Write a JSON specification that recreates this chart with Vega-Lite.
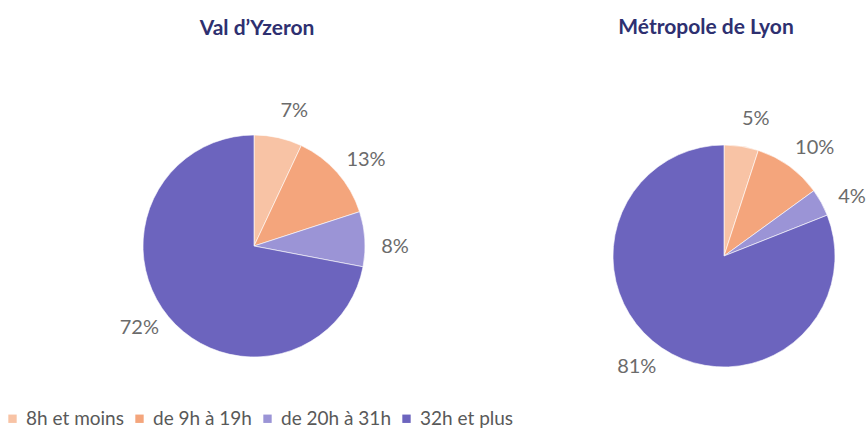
{
  "$schema": "https://vega.github.io/schema/vega-lite/v6.json",
  "background": "white",
  "padding": {"left": 3, "top": 16, "right": 0, "bottom": 0},
  "datasets": {
    "temps": [
      {"territoire": "Val d’Yzeron", "classe": "8h et moins", "part": 0.07, "n": 1},
      {"territoire": "Val d’Yzeron", "classe": "de 9h à 19h", "part": 0.13, "n": 2},
      {"territoire": "Val d’Yzeron", "classe": "de 20h à 31h", "part": 0.08, "n": 3},
      {"territoire": "Val d’Yzeron", "classe": "32h et plus", "part": 0.72, "n": 4},
      {"territoire": "Métropole de Lyon", "classe": "8h et moins", "part": 0.05, "n": 1},
      {"territoire": "Métropole de Lyon", "classe": "de 9h à 19h", "part": 0.10, "n": 2},
      {"territoire": "Métropole de Lyon", "classe": "de 20h à 31h", "part": 0.04, "n": 3},
      {"territoire": "Métropole de Lyon", "classe": "32h et plus", "part": 0.81, "n": 4}
    ]
  },
  "data": {"name": "temps"},
  "spacing": 89,
  "config": {
    "view": {"stroke": null},
    "font": "Lato",
    "title": {"font": "Lato", "fontSize": 21, "fontWeight": "bold", "color": "#2E3070", "anchor": "middle", "frame": "group"},
    "legend": {
      "orient": "bottom",
      "direction": "horizontal",
      "title": null,
      "padding": 0,
      "symbolType": "square",
      "symbolSize": 70,
      "symbolStrokeWidth": 0,
      "labelFont": "Lato",
      "labelFontSize": 19,
      "labelColor": "#595959",
      "labelOffset": 4,
      "columnPadding": 6,
      "offset": 32
    }
  },
  "hconcat": [
    {
      "title": {"text": "Val d’Yzeron", "dx": 3, "offset": 62},
      "width": 502,
      "height": 222,
      "transform": [{"filter": "datum.territoire === 'Val d’Yzeron'"}],
      "encoding": {
        "theta": {"field": "part", "type": "quantitative", "stack": true},
        "order": {"field": "n", "type": "ordinal"}
      },
      "layer": [
        {
          "mark": {"type": "arc", "outerRadius": 111, "stroke": "#ffffff", "strokeWidth": 0.6},
          "encoding": {
            "color": {
              "field": "classe",
              "type": "nominal",
              "scale": {
                "domain": ["8h et moins", "de 9h à 19h", "de 20h à 31h", "32h et plus"],
                "range": ["#F8C3A5", "#F4A57C", "#9B94D6", "#6C64BE"]
              }
            }
          }
        },
        {
          "mark": {"type": "text", "radius": 141, "thetaOffset": 0.07, "font": "Lato", "fontSize": 20, "color": "#6B6B6B"},
          "encoding": {"text": {"field": "part", "type": "quantitative", "format": ".0%"}}
        }
      ]
    },
    {
      "title": {"text": "Métropole de Lyon", "dx": -18, "offset": 71},
      "width": 260,
      "height": 242,
      "transform": [{"filter": "datum.territoire === 'Métropole de Lyon'"}],
      "encoding": {
        "theta": {"field": "part", "type": "quantitative", "stack": true},
        "order": {"field": "n", "type": "ordinal"}
      },
      "layer": [
        {
          "mark": {"type": "arc", "outerRadius": 111, "stroke": "#ffffff", "strokeWidth": 0.6},
          "encoding": {
            "color": {
              "field": "classe",
              "type": "nominal",
              "scale": {
                "domain": ["8h et moins", "de 9h à 19h", "de 20h à 31h", "32h et plus"],
                "range": ["#F8C3A5", "#F4A57C", "#9B94D6", "#6C64BE"]
              }
            }
          }
        },
        {
          "mark": {"type": "text", "radius": 141, "thetaOffset": 0.07, "font": "Lato", "fontSize": 20, "color": "#6B6B6B"},
          "encoding": {"text": {"field": "part", "type": "quantitative", "format": ".0%"}}
        }
      ]
    }
  ],
  "resolve": {"scale": {"color": "shared"}}
}
